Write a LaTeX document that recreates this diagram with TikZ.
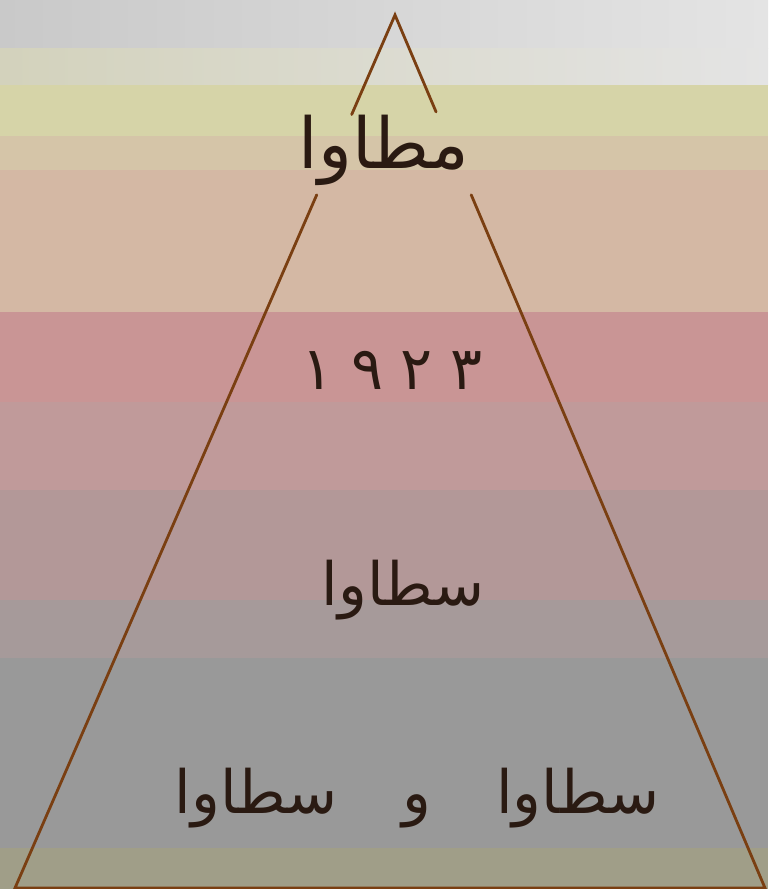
\documentclass[tikz,border=0pt]{standalone}
\usepackage{fontspec}
\newfontfamily\pahlavifont[Script=Arabic]{DejaVu Sans}
\TeXXeTstate=1
\usetikzlibrary{calc}

\definecolor{topgrey}{HTML}{C9C9C9}
\definecolor{topwhite}{HTML}{E4E4E4}
\definecolor{mistband}{HTML}{D3D2BC}
\definecolor{sandband}{HTML}{D6D4A8}
\definecolor{wheatband}{HTML}{D5C5A8}
\definecolor{peachband}{HTML}{D4B8A4}
\definecolor{roseband}{HTML}{C99595}
\definecolor{mauveband}{HTML}{C09A9A}
\definecolor{dustband}{HTML}{B39898}
\definecolor{ashband}{HTML}{A69A9A}
\definecolor{greyband}{HTML}{999999}
\definecolor{oliveband}{HTML}{A09E88}
\definecolor{edgebrown}{HTML}{7A3F12}
\definecolor{inkdark}{HTML}{2A1A12}

\begin{document}
\begin{tikzpicture}[
    x=0.02cm, y=-0.02cm,
    % band and edge styles
    band/.style={draw=none},
    edge/.style={draw=edgebrown, line width=1.6pt, line cap=round},
    % text styles
    word/.style={font=\pahlavifont\fontsize{34}{40}\selectfont, text=inkdark, inner sep=0pt}
]

% --- BACKGROUND BANDS ---
\useasboundingbox (0,0) rectangle (768,889);
\shade[band, left color=topgrey, right color=topwhite] (0,0) rectangle (768,48);
\shade[band, left color=mistband, right color=topwhite] (0,48) rectangle (768,85);
\fill[band, sandband] (0,85) rectangle (768,136);
\fill[band, wheatband] (0,136) rectangle (768,170);
\fill[band, peachband] (0,170) rectangle (768,312);
\fill[band, roseband] (0,312) rectangle (768,402);
\fill[band, mauveband] (0,402) rectangle (768,490);
\fill[band, dustband] (0,490) rectangle (768,600);
\fill[band, ashband] (0,600) rectangle (768,658);
\fill[band, greyband] (0,658) rectangle (768,848);
\fill[band, oliveband] (0,848) rectangle (768,889);

% --- PYRAMID ---
\coordinate (apex) at (395,15);
\coordinate (baseL) at (15,888);
\coordinate (baseR) at (765,888);
\coordinate (breakLa) at ($(apex)!0.114!(baseL)$);
\coordinate (breakLb) at ($(apex)!0.206!(baseL)$);
\coordinate (breakRa) at ($(apex)!0.111!(baseR)$);
\coordinate (breakRb) at ($(apex)!0.206!(baseR)$);

\draw[edge] (breakLa) -- (apex) -- (breakRa);
\draw[edge] (breakLb) -- (baseL) -- (baseR) -- (breakRb);

% --- LEVELS ---
\node[word, font=\pahlavifont\fontsize{40}{44}\selectfont] (tier1) at (384,150) {\beginR مطاوا\endR};
\node[word] (tier2) at (392,370) {١\hspace{0.35cm}٩\hspace{0.35cm}٢\hspace{0.35cm}٣};
\node[word] (tier3) at (403,590) {\beginR سطاوا\endR};
\node[word] (tier4) at (417,798) {\beginR سطاوا\hspace{1.3cm}و\hspace{1.3cm}سطاوا\endR};

\end{tikzpicture}
\end{document}
